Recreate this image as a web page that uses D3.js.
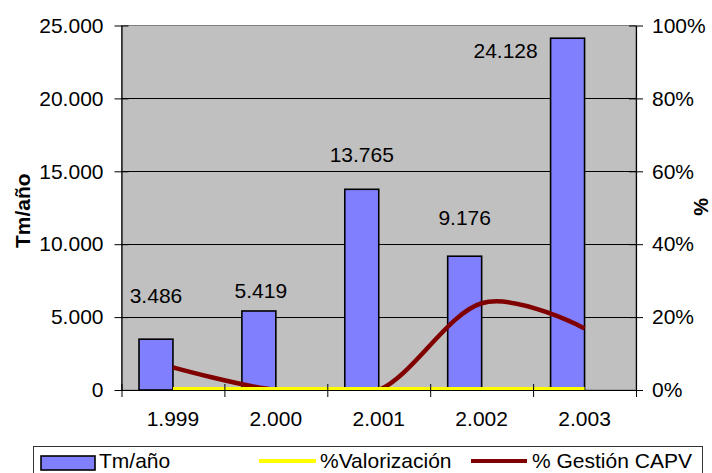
<!DOCTYPE html>
<html>
<head>
<meta charset="utf-8">
<script src="https://cdn.jsdelivr.net/npm/d3@7"></script>
<style>
  html, body { margin: 0; padding: 0; background: #ffffff; }
  svg { display: block; font-family: "Liberation Sans", Arial, sans-serif; }
</style>
</head>
<body>
<svg id="chart" width="712" height="473"></svg>
<script>
// ---- data ----
const categories = ["1.999", "2.000", "2.001", "2.002", "2.003"];
const tmAnio = [3486, 5419, 13765, 9176, 24128];
const pctValorizacion = [0, 0, 0, 0, 0];
const pctGestionCAPV = [0.062, 0, 0, 0.238, 0.169];
const leftTicks = [0, 5000, 10000, 15000, 20000, 25000];
const rightTicks = [0, 0.2, 0.4, 0.6, 0.8, 1.0];
const seriesNames = ["Tm/año", "%Valorización", "% Gestión CAPV"];
// manual data-label nudges (layout only): [dx from bar centre, baseline height above bar top]
const labelNudge = [[0, 36], [2, 13], [0, 27], [0, 31], [-62, -19.5]];

// ---- layout ----
const W = 712, H = 473;
const plot = { left: 121.5, right: 636, top: 25.5, bottom: 390 };
const svg = d3.select("#chart");
const FONT = "Liberation Sans, Arial, sans-serif";

const loc = d3.formatLocale({ decimal: ",", thousands: ".", grouping: [3], currency: ["", ""] });
const fmtNum = loc.format(",");
const fmtPct = d3.format(".0%");

const x = d3.scaleBand().domain(categories).range([plot.left, plot.right]).padding(0);
const bw = x.bandwidth();
const center = c => x(c) + bw / 2;
const y = d3.scaleLinear().domain([0, 25000]).range([plot.bottom, plot.top]);
const y2 = d3.scaleLinear().domain([0, 1]).range([plot.bottom, plot.top]);

// plot area background
svg.append("rect")
  .attr("x", plot.left).attr("y", plot.top)
  .attr("width", plot.right - plot.left).attr("height", plot.bottom - plot.top)
  .attr("fill", "#C0C0C0").attr("stroke", "#808080").attr("stroke-width", 1);

// gridlines
svg.append("g").selectAll("line")
  .data(leftTicks.filter(v => v > 0 && v < 25000))
  .join("line")
  .attr("x1", plot.left).attr("x2", plot.right)
  .attr("y1", d => Math.round(y(d)) + 0.5).attr("y2", d => Math.round(y(d)) + 0.5)
  .attr("stroke", "#000").attr("stroke-width", 1);

// bars
const barW = bw * 0.33;
svg.append("g").selectAll("rect")
  .data(tmAnio)
  .join("rect")
  .attr("x", (d, i) => center(categories[i]) - barW)
  .attr("y", d => y(d))
  .attr("width", barW)
  .attr("height", d => plot.bottom - y(d))
  .attr("fill", "#8080FF").attr("stroke", "#000").attr("stroke-width", 1.6);

// clip for lines
svg.append("clipPath").attr("id", "plotClip")
  .append("rect")
  .attr("x", plot.left).attr("y", plot.top)
  .attr("width", plot.right - plot.left).attr("height", plot.bottom - plot.top);

const lineGen = d3.line()
  .x((d, i) => center(categories[i]))
  .y(d => y2(d))
  .curve(d3.curveCardinal.tension(0));

svg.append("path")
  .datum(pctGestionCAPV)
  .attr("d", lineGen)
  .attr("clip-path", "url(#plotClip)")
  .attr("fill", "none").attr("stroke", "#800000").attr("stroke-width", 4.5)
  .attr("stroke-linejoin", "round");

svg.append("path")
  .datum(pctValorizacion)
  .attr("d", d3.line().x((d, i) => center(categories[i])).y(d => y2(d) - 1))
  .attr("fill", "none").attr("stroke", "#FFFF00").attr("stroke-width", 4);

// data labels
svg.append("g").selectAll("text")
  .data(tmAnio)
  .join("text")
  .attr("x", (d, i) => center(categories[i]) - barW / 2 + labelNudge[i][0])
  .attr("y", (d, i) => y(d) - labelNudge[i][1])
  .attr("text-anchor", "middle")
  .attr("font-size", 21)
  .attr("fill", "#000")
  .text(d => fmtNum(d));

// left axis
const axL = svg.append("g")
  .attr("transform", `translate(${plot.left},0)`)
  .call(d3.axisLeft(y).tickValues(leftTicks).tickFormat(fmtNum).tickSize(7).tickSizeOuter(0).tickPadding(11));
axL.select(".domain").attr("stroke", "#000").attr("stroke-width", 1.2);
axL.selectAll(".tick line").attr("x1", 7).attr("stroke", "#000");
axL.selectAll(".tick text").attr("font-size", 21).attr("font-family", FONT).attr("fill", "#000");

// right axis
const axR = svg.append("g")
  .attr("transform", `translate(${plot.right},0)`)
  .call(d3.axisRight(y2).tickValues(rightTicks).tickFormat(fmtPct).tickSize(7).tickSizeOuter(0).tickPadding(9));
axR.select(".domain").attr("stroke", "#000").attr("stroke-width", 1.2);
axR.selectAll(".tick line").attr("x1", -7).attr("stroke", "#000");
axR.selectAll(".tick text").attr("font-size", 21).attr("font-family", FONT).attr("fill", "#000");

// bottom axis: boundary ticks
const xb = d3.scaleLinear().domain([0, categories.length]).range([plot.left, plot.right]);
const axB = svg.append("g")
  .attr("transform", `translate(0,${plot.bottom})`)
  .call(d3.axisBottom(xb).tickValues(d3.range(categories.length + 1)).tickFormat("").tickSize(7).tickSizeOuter(0));
axB.select(".domain").attr("stroke", "#000").attr("stroke-width", 1.2);
axB.selectAll(".tick line").attr("y1", -6).attr("stroke", "#000");

// bottom axis: category labels
const axBL = svg.append("g")
  .attr("transform", `translate(0,${plot.bottom})`)
  .call(d3.axisBottom(x).tickSize(0).tickPadding(21));
axBL.select(".domain").remove();
axBL.selectAll(".tick text").attr("font-size", 21).attr("font-family", FONT).attr("fill", "#000");

// axis titles
svg.append("text")
  .attr("transform", `translate(30,${(plot.top + plot.bottom) / 2 + 3}) rotate(-90)`)
  .attr("text-anchor", "middle").attr("font-size", 21).attr("font-weight", "bold")
  .text("Tm/año");
svg.append("text")
  .attr("transform", `translate(708,${(plot.top + plot.bottom) / 2 - 1}) rotate(-90)`)
  .attr("text-anchor", "middle").attr("font-size", 20).attr("font-weight", "bold")
  .text("%");

// legend
const lg = svg.append("g");
lg.append("rect").attr("x", 33.5).attr("y", 446.5).attr("width", 669).attr("height", 40)
  .attr("fill", "#fff").attr("stroke", "#333").attr("stroke-width", 1);
lg.append("rect").attr("x", 41).attr("y", 456).attr("width", 54).attr("height", 14)
  .attr("fill", "#8080FF").attr("stroke", "#000").attr("stroke-width", 1.6);
lg.append("text").attr("x", 99).attr("y", 468).attr("font-size", 21).text(seriesNames[0]);
lg.append("line").attr("x1", 259).attr("x2", 316).attr("y1", 461).attr("y2", 461)
  .attr("stroke", "#FFFF00").attr("stroke-width", 4);
lg.append("text").attr("x", 320).attr("y", 468).attr("font-size", 21).text(seriesNames[1]);
lg.append("line").attr("x1", 471).attr("x2", 527).attr("y1", 461).attr("y2", 461)
  .attr("stroke", "#800000").attr("stroke-width", 4);
lg.append("text").attr("x", 532).attr("y", 468).attr("font-size", 21).text(seriesNames[2]);
</script>
</body>
</html>
